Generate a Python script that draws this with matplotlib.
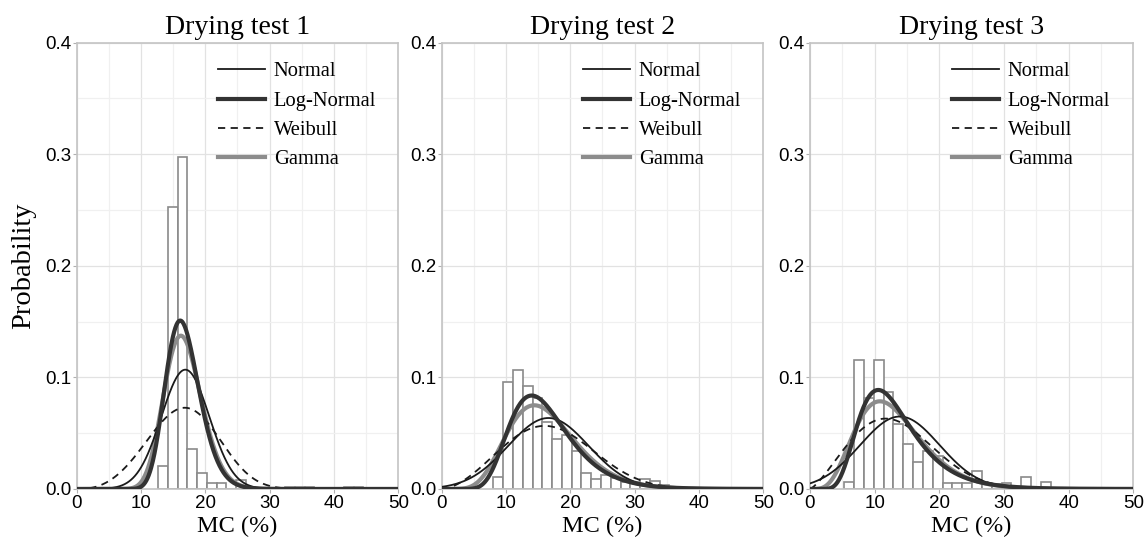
import numpy as np
import matplotlib
matplotlib.use("Agg")
import matplotlib.pyplot as plt
from math import gamma as gamma_fn

# Histogram data (bin left edges start, bin width, bar heights)
titles = ["Drying test 1", "Drying test 2", "Drying test 3"]
bin_width = 1.52
bin_start = [12.65, 8.05, 5.3]
heights1 = [0.021, 0.253, 0.298, 0.036, 0.0145, 0.0055, 0.0055, 0.0, 0.008,
            0.0, 0.0, 0.0, 0.0, 0.002, 0.002, 0.002, 0.0, 0.0, 0.0, 0.002, 0.002]
heights2 = [0.011, 0.0955, 0.1065, 0.092, 0.082, 0.060, 0.045, 0.048, 0.034,
            0.0145, 0.009, 0.0125, 0.0095, 0.006, 0.006, 0.009, 0.0075, 0.004, 0.001]
heights3 = [0.006, 0.116, 0.082, 0.116, 0.087, 0.058, 0.040, 0.024, 0.034, 0.030,
            0.005, 0.005, 0.005, 0.016, 0.0045, 0.0045, 0.005, 0.0, 0.011, 0.0, 0.006]
all_heights = [heights1, heights2, heights3]

# Fitted distribution parameters per test
normal_mu = [16.9, 16.6, 13.9]
normal_sd = [3.73, 6.27, 6.14]
lognorm_mu = [2.805, 2.743, 2.512]
lognorm_s = [0.162, 0.323, 0.394]
weib_k = [3.5, 2.7, 2.3]
weib_lam = [18.5, 19.0, 15.0]
gam_a = [32.3, 8.5, 5.7]
gam_theta = [0.5175, 1.92, 2.3]


def normal_pdf(x, mu, sd):
    return np.exp(-0.5 * ((x - mu) / sd) ** 2) / (sd * np.sqrt(2 * np.pi))


def lognorm_pdf(x, mu, s):
    return np.exp(-(np.log(x) - mu) ** 2 / (2 * s ** 2)) / (x * s * np.sqrt(2 * np.pi))


def weibull_pdf(x, k, lam):
    return k / lam * (x / lam) ** (k - 1) * np.exp(-(x / lam) ** k)


def gamma_pdf(x, a, theta):
    return np.exp((a - 1) * np.log(x) - x / theta - np.log(gamma_fn(a)) - a * np.log(theta))


plt.rcParams['font.family'] = ['Liberation Sans', 'DejaVu Sans']
serif = ['Liberation Serif', 'DejaVu Serif']

fig = plt.figure(figsize=(11.46, 5.46), dpi=100)
lefts = [0.0669, 0.3854, 0.7068]
widths = [0.2806, 0.2806, 0.2821]

x = np.linspace(0.01, 50, 800)

for i in range(3):
    ax = fig.add_axes([lefts[i], 0.1044, widths[i], 0.8174])
    h = all_heights[i]
    edges = bin_start[i] + bin_width * np.arange(len(h))
    ax.bar(edges, h, width=bin_width, align='edge', facecolor='white',
           edgecolor='#8a8a8a', linewidth=1.2, zorder=2)

    ax.plot(x, normal_pdf(x, normal_mu[i], normal_sd[i]), color='#1a1a1a',
            lw=1.3, label='Normal', zorder=4)
    ax.plot(x, lognorm_pdf(x, lognorm_mu[i], lognorm_s[i]), color='#333333',
            lw=3.0, label='Log-Normal', zorder=5)
    ax.plot(x, weibull_pdf(x, weib_k[i], weib_lam[i]), color='#1a1a1a',
            lw=1.3, ls=(0, (4, 3)), label='Weibull', zorder=4)
    ax.plot(x, gamma_pdf(x, gam_a[i], gam_theta[i]), color='#8c8c8c',
            lw=3.0, label='Gamma', zorder=3)

    ax.set_xlim(0, 50)
    ax.set_ylim(0, 0.4)
    ax.set_xticks([0, 10, 20, 30, 40, 50])
    ax.set_yticks([0.0, 0.1, 0.2, 0.3, 0.4])
    ax.set_yticklabels(["0.0", "0.1", "0.2", "0.3", "0.4"])
    ax.set_xticks([5, 15, 25, 35, 45], minor=True)
    ax.set_yticks([0.05, 0.15, 0.25, 0.35], minor=True)
    ax.grid(True, which='major', color='#e2e2e2', lw=0.9, zorder=0)
    ax.grid(True, which='minor', color='#f0f0f0', lw=0.9, zorder=0)
    ax.set_axisbelow(True)
    for sp in ax.spines.values():
        sp.set_color('#c4c4c4')
        sp.set_linewidth(1.2)
    ax.tick_params(axis='both', which='major', labelsize=13.5, length=3,
                   color='#b0b0b0', pad=1)
    ax.tick_params(axis='both', which='minor', length=0)

    ax.set_title(titles[i], fontsize=20, family=serif, pad=6)
    ax.set_xlabel("MC (%)", fontsize=17.5, family=serif, labelpad=3)
    if i == 0:
        ax.set_ylabel("Probability", fontsize=20.5, family=serif, labelpad=6)

    ax.legend(loc='upper left', bbox_to_anchor=(0.415, 0.975), frameon=False,
              prop={'family': serif, 'size': 14.8}, handlelength=2.25,
              handletextpad=0.45, labelspacing=0.48, borderaxespad=0)

fig.savefig("out.png", dpi=100)
